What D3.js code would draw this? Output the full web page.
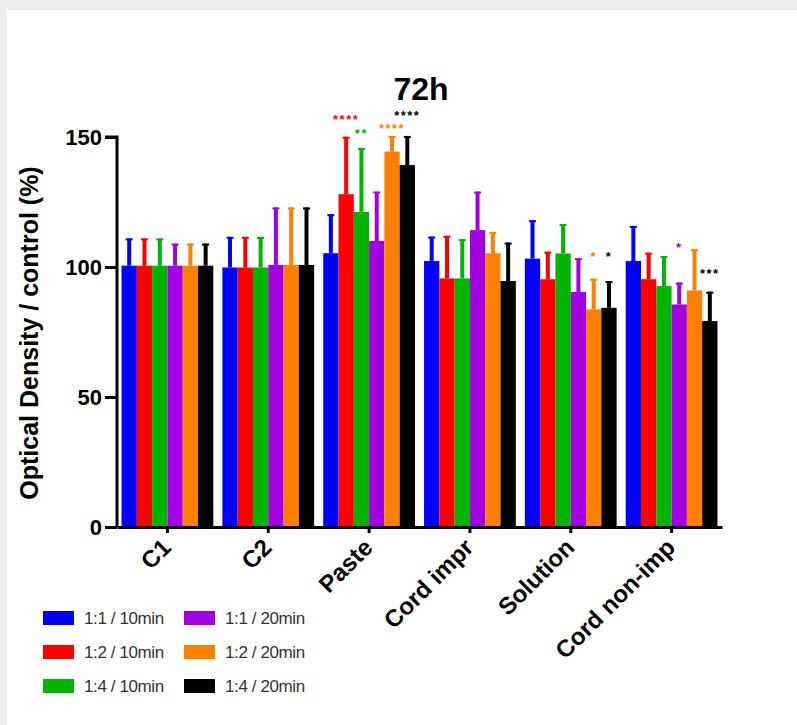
<!DOCTYPE html>
<html>
<head>
<meta charset="utf-8">
<script src="https://d3js.org/d3.v7.min.js"></script>
<style>
body { margin:0; background:#eeeeee; }
#chart_place { width:797px; height:725px; }
text { font-family: "Liberation Sans", Arial, sans-serif; }
</style>
</head>
<body>
<div id="chart_place"></div>
<script>
var groups = ["C1", "C2", "Paste", "Cord impr", "Solution", "Cord non-imp"];
var seriesNames = ["1:1 / 10min", "1:2 / 10min", "1:4 / 10min", "1:1 / 20min", "1:2 / 20min", "1:4 / 20min"];
var seriesColors = ["#0000ff", "#ff0000", "#00b400", "#a200e2", "#ff8000", "#000000"];

// mean values per series, one per group
var mean_11_10 = [100.5, 99.8, 105.3, 102.3, 103.2, 102.3];
var mean_12_10 = [100.5, 99.8, 128.0, 95.6, 95.3, 95.3];
var mean_14_10 = [100.5, 99.8, 121.2, 95.6, 105.2, 92.7];
var mean_11_20 = [100.5, 100.8, 110.0, 114.2, 90.4, 85.6];
var mean_12_20 = [100.5, 100.8, 144.4, 105.3, 83.7, 91.0];
var mean_14_20 = [100.5, 100.8, 139.2, 94.6, 84.3, 79.2];

// upper error (SD) per series
var err_11_10 = [10.5, 11.8, 15.0, 9.4, 14.8, 13.5];
var err_12_10 = [10.5, 11.8, 22.1, 16.4, 10.6, 10.2];
var err_14_10 = [10.5, 11.8, 24.6, 15.1, 11.3, 11.5];
var err_11_20 = [8.5, 22.1, 19.0, 14.8, 13.0, 8.4];
var err_12_20 = [8.5, 22.1, 6.0, 8.2, 11.8, 15.8];
var err_14_20 = [8.5, 22.1, 11.2, 14.8, 10.3, 11.3];

var means = [mean_11_10, mean_12_10, mean_14_10, mean_11_20, mean_12_20, mean_14_20];
var errs = [err_11_10, err_12_10, err_14_10, err_11_20, err_12_20, err_14_20];

// significance marks: group, series, label, level (in % units)
var starGroup = ["Paste", "Paste", "Paste", "Paste", "Solution", "Solution", "Cord non-imp", "Cord non-imp"];
var starSeries = [1, 2, 4, 5, 4, 5, 3, 5];
var starLabel = ["****", "**", "****", "****", "*", "*", "*", "***"];
var starLevel = [158.2, 152.7, 154.6, 159.5, 105.3, 105.3, 108.8, 98.7];

var yTicks = [0, 50, 100, 150];

var svg = d3.select("#chart_place").append("svg")
    .attr("width", 797)
    .attr("height", 725);

svg.append("rect")
    .attr("x", 7).attr("y", 10)
    .attr("width", 790).attr("height", 715)
    .attr("fill", "#ffffff");

var x = d3.scaleBand()
    .domain(groups)
    .range([117, 722])
    .paddingInner(0.09)
    .paddingOuter(0.045);

var xs = d3.scaleBand()
    .domain(d3.range(seriesNames.length))
    .range([0, x.bandwidth()]);

var y = d3.scaleLinear()
    .domain([0, 150])
    .range([527, 137]);

// bars + error bars
for (var s = 0; s < seriesNames.length; s++){
  var rows = groups.map(function(g, i){ return {g: g, v: means[s][i], e: errs[s][i]}; });
  var sg = svg.append("g").attr("fill", seriesColors[s]).attr("stroke", seriesColors[s]);

  sg.selectAll("line.err")
    .data(rows)
    .enter().append("line")
      .attr("class", "err")
      .attr("x1", function(d){ return x(d.g) + xs(s) + xs.bandwidth() / 2; })
      .attr("x2", function(d){ return x(d.g) + xs(s) + xs.bandwidth() / 2; })
      .attr("y1", function(d){ return y(d.v); })
      .attr("y2", function(d){ return y(d.v + d.e); })
      .attr("stroke-width", 4);

  sg.selectAll("line.cap")
    .data(rows)
    .enter().append("line")
      .attr("class", "cap")
      .attr("x1", function(d){ return x(d.g) + xs(s) + xs.bandwidth() / 2 - 3.5; })
      .attr("x2", function(d){ return x(d.g) + xs(s) + xs.bandwidth() / 2 + 3.5; })
      .attr("y1", function(d){ return y(d.v + d.e) + 1; })
      .attr("y2", function(d){ return y(d.v + d.e) + 1; })
      .attr("stroke-width", 2);

  sg.selectAll("rect")
    .data(rows)
    .enter().append("rect")
      .attr("x", function(d){ return x(d.g) + xs(s); })
      .attr("y", function(d){ return y(d.v); })
      .attr("width", xs.bandwidth())
      .attr("height", function(d){ return y(0) - y(d.v); })
      .attr("stroke", "none");
}

// stars
svg.append("g").selectAll("text")
  .data(starLabel)
  .enter().append("text")
    .attr("x", function(d, i){ return x(starGroup[i]) + xs(starSeries[i]) + xs.bandwidth() / 2; })
    .attr("y", function(d, i){ return y(starLevel[i]) + 8; })
    .attr("text-anchor", "middle")
    .attr("font-size", 13)
    .attr("letter-spacing", 1.5)
    .attr("font-weight", "bold")
    .attr("fill", function(d, i){ return seriesColors[starSeries[i]]; })
    .text(function(d){ return d; });

// y axis
var yAxis = svg.append("g")
    .attr("transform", "translate(117,0)")
    .call(d3.axisLeft(y).tickValues(yTicks).tickSize(12).tickPadding(3));
yAxis.select(".domain").attr("stroke-width", 3).attr("d", "M-12,137H0V527");
yAxis.selectAll(".tick line").attr("stroke-width", 3);
yAxis.selectAll(".tick text")
    .attr("font-size", 22)
    .attr("font-weight", "bold")
    .attr("fill", "#000")
    .style("font-family", "'Liberation Sans', Arial, sans-serif");

// x axis
var xAxis = svg.append("g")
    .attr("transform", "translate(0,527)")
    .call(d3.axisBottom(x).tickSize(6).tickSizeOuter(0));
xAxis.select(".domain").attr("stroke-width", 3);
xAxis.selectAll(".tick line").attr("stroke-width", 3);
xAxis.selectAll(".tick text")
    .attr("font-size", 24)
    .attr("font-weight", "bold")
    .attr("fill", "#000")
    .style("font-family", "'Liberation Sans', Arial, sans-serif")
    .attr("text-anchor", "end")
    .attr("dy", null)
    .attr("y", 0)
    .attr("transform", "translate(5,22) rotate(-45)");

// title
svg.append("text")
    .attr("x", 421).attr("y", 100)
    .attr("text-anchor", "middle")
    .attr("font-size", 32)
    .attr("font-weight", "bold")
    .text("72h");

// y label
svg.append("text")
    .attr("transform", "translate(38,333) rotate(-90)")
    .attr("text-anchor", "middle")
    .attr("font-size", 25)
    .attr("font-weight", "bold")
    .text("Optical Density / control (%)");

// legend
var legend = svg.append("g").selectAll("g")
  .data(seriesNames)
  .enter().append("g")
    .attr("transform", function(d, i){ return "translate(" + (43 + Math.floor(i / 3) * 141) + "," + (611 + (i % 3) * 34) + ")"; });
legend.append("rect")
    .attr("width", 31).attr("height", 14)
    .attr("fill", function(d, i){ return seriesColors[i]; });
legend.append("text")
    .attr("x", 41).attr("y", 13)
    .attr("font-size", 17)
    .attr("fill", "#333")
    .attr("letter-spacing", -0.4)
    .text(function(d){ return d; });
</script>
</body>
</html>
